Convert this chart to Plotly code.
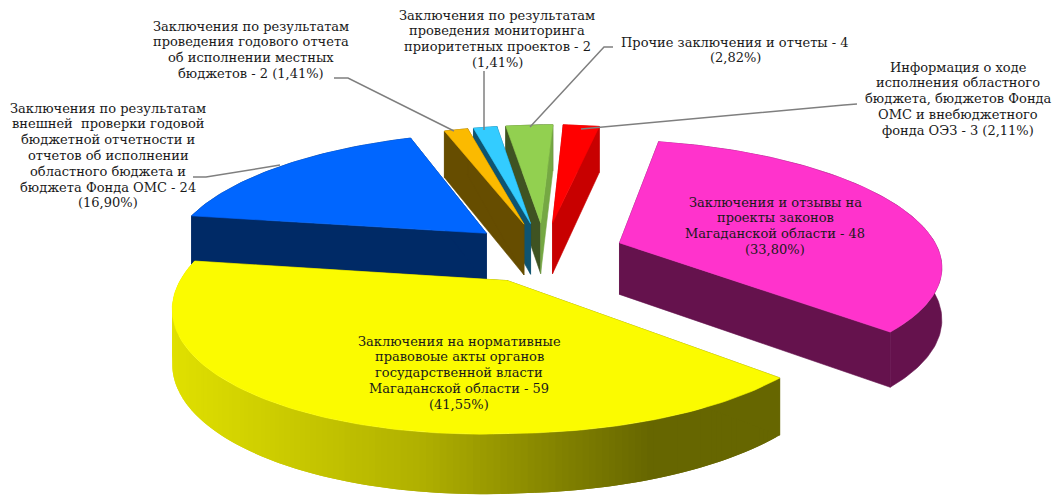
import math
import plotly.graph_objects as go

# --- data -----------------------------------------------------------------
labels = [
    "Информация о ходе<br>исполнения областного<br>бюджета, бюджетов Фонда<br>ОМС и внебюджетного<br>фонда ОЭЗ - 3 (2,11%)",
    "Заключения и отзывы на<br>проекты законов<br>Магаданской области - 48<br>(33,80%)",
    "Заключения на нормативные<br>правовоые акты органов<br>государственной власти<br>Магаданской области - 59<br>(41,55%)",
    "Заключения по результатам<br>внешней  проверки годовой<br>бюджетной отчетности и<br>отчетов об исполнении<br>областного бюджета и<br>бюджета Фонда ОМС - 24<br>(16,90%)",
    "Заключения по результатам<br>проведения годового отчета<br>об исполнении местных<br>бюджетов - 2 (1,41%)",
    "Заключения по результатам<br>проведения мониторинга<br>приоритетных проектов - 2<br>(1,41%)",
    "Прочие заключения и отчеты - 4<br>(2,82%)",
]
values = [3, 48, 59, 24, 2, 2, 4]

# --- styles ---------------------------------------------------------------
top_colors = ["#ff0000", "#ff33cc", "#fbfb00", "#0066ff", "#fbba00", "#33ccff", "#92d050"]
wall_first = ["#c80000", "#65124d", "#666600", "#002a66", "#664d00", "#0f5470", "#3f5322"]
wall_last = ["#c80000", "#65124d", "#666600", "#002a66", "#664d00", "#0f5470", "#75a843"]
label_xy = [(958, 67), (775, 202), (459, 341), (108, 108), (251, 26), (497, 15), (735, 42)]
leaders = [
    [(857, 104), (844, 105), (581, 129)],
    None,
    None,
    [(193, 177), (206, 177), (280, 165)],
    [(334, 78), (348, 78), (454, 131)],
    [(484, 71), (484, 130)],
    [(613, 47), (604, 47), (530, 127)],
]
draw_order = [0, 6, 5, 4, 3, 1, 2]
FONT = "DejaVu Serif"
FONT_SIZE = 13
LINE_STEP = 15.8

# projection of the tilted pie plane onto the page
CX, CY, AX_L, AX_R, BY, SHEAR, TILT, PERSP, PULL, DROP = 544, 252, 316, 323.6, 121, -14, 8, 0.15, 0.25, 52


def project(X, Y):
    s = 1 / (1 - PERSP * Y)
    a = AX_L if X < 0 else AX_R
    tilt = TILT if X > 0 else 0
    return CX + (a * X + SHEAR * Y) * s, CY + (BY * Y + tilt * X) * s, s


def rim(theta, mid):
    """Plane point on the rim of a slice pulled out along its mid angle."""
    X = math.sin(theta) + PULL * math.sin(mid)
    Y = -math.cos(theta) - PULL * math.cos(mid)
    return X, Y


def drop(p):
    return p[0], p[1] + DROP * p[2] ** 0.7


def poly(pts, color, edge=0.6):
    xs = [p[0] for p in pts] + [pts[0][0]]
    ys = [p[1] for p in pts] + [pts[0][1]]
    return go.Scatter(x=xs, y=ys, mode="lines", fill="toself", fillcolor=color,
                      line=dict(color=color, width=edge), hoverinfo="skip", showlegend=False)


def yellow_side(x):
    stops = [(172, (224, 224, 0)), (300, (200, 200, 0)), (420, (176, 176, 0)),
             (560, (130, 130, 0)), (650, (102, 102, 0)), (1000, (102, 102, 0))]
    for (x0, c0), (x1, c1) in zip(stops, stops[1:]):
        if x <= x1:
            t = max(0, (x - x0) / (x1 - x0))
            c = [round(a + (b - a) * t) for a, b in zip(c0, c1)]
            return "rgb(%d,%d,%d)" % tuple(c)
    return "rgb(102,102,0)"


total = sum(values)
spans = []
acc = 0.0
for v in values:
    a0 = acc / total * 2 * math.pi
    acc += v
    spans.append((a0, acc / total * 2 * math.pi))

fig = go.Figure()
for i in draw_order:
    a0, a1 = spans[i]
    mid = (a0 + a1) / 2
    n = max(3, int(math.degrees(a1 - a0)))
    thetas = [a0 + (a1 - a0) * k / n for k in range(n + 1)]
    apex = project(PULL * math.sin(mid), -PULL * math.cos(mid))
    arc = [project(*rim(t, mid)) for t in thetas]
    # outer wall: one band, or overlapping strips where it carries a gradient
    if i == 2:
        for k in range(n):
            p, q = arc[k], arc[min(k + 2, n)]
            fig.add_trace(poly([p, q, drop(q), drop(p)], yellow_side((p[0] + arc[k + 1][0]) / 2), edge=0))
    else:
        fig.add_trace(poly(arc + [drop(p) for p in reversed(arc)], wall_first[i]))
    # radial walls
    fig.add_trace(poly([apex, arc[0], drop(arc[0]), drop(apex)], wall_first[i]))
    fig.add_trace(poly([apex, arc[-1], drop(arc[-1]), drop(apex)], wall_last[i]))
    # top surface
    fig.add_trace(poly([apex] + arc, top_colors[i]))

for path in leaders:
    if path:
        fig.add_trace(go.Scatter(x=[p[0] for p in path], y=[p[1] for p in path], mode="lines",
                                 line=dict(color="#7f7f7f", width=1.5), hoverinfo="skip", showlegend=False))

for text, (x, y) in zip(labels, label_xy):
    lines = text.split("<br>")
    for j, line in enumerate(lines):
        fig.add_annotation(x=x, y=y + j * LINE_STEP, text=line, showarrow=False, xanchor="center",
                           yanchor="middle", font=dict(family=FONT, size=FONT_SIZE, color="#1a1a1a"))

fig.update_xaxes(range=[0, 1059], visible=False, fixedrange=True)
fig.update_yaxes(range=[499, 0], visible=False, fixedrange=True)
fig.update_layout(width=1059, height=499, margin=dict(l=0, r=0, t=0, b=0),
                  paper_bgcolor="white", plot_bgcolor="white", showlegend=False)
fig.write_html("out.html", config={"displayModeBar": False}, post_script="document.body.style.margin='0';")
